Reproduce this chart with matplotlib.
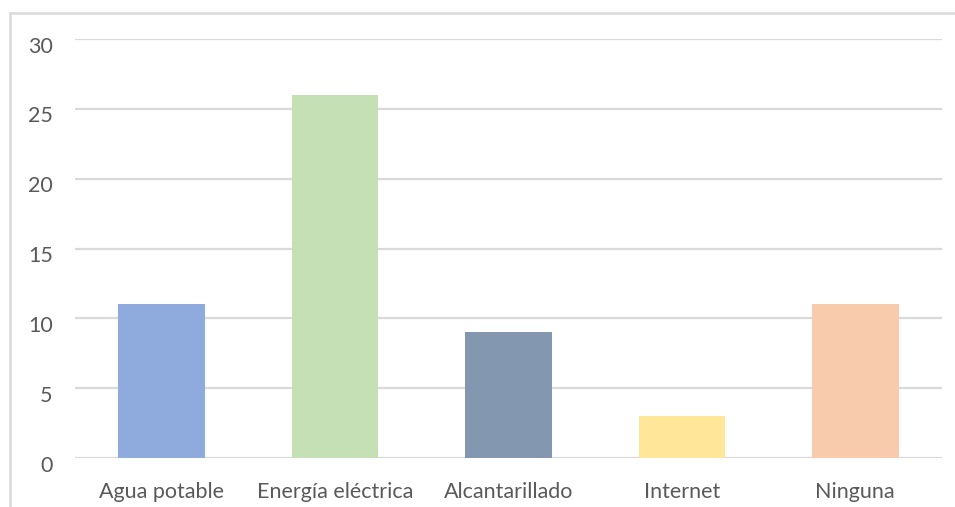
import matplotlib.pyplot as plt
from matplotlib.lines import Line2D
from matplotlib.transforms import ScaledTranslation

categories = ["Agua potable", "Energía eléctrica", "Alcantarillado", "Internet", "Ninguna"]
values = [11, 26, 9, 3, 11]
colors = ["#8FAADC", "#C5E0B4", "#8497B0", "#FFE699", "#F8CBAD"]
yticks = [0, 5, 10, 15, 20, 25, 30]

plt.rcParams['font.family'] = ['Lato', 'DejaVu Sans']

fig = plt.figure(figsize=(9.55, 5.07), dpi=100)
ax = fig.add_axes([0.0785, 0.0966, 0.9079, 0.8264])

x = range(len(categories))
ax.bar(x, values, width=0.5, color=colors, zorder=3)

ax.set_xlim(-0.5, len(categories) - 0.5)
ax.set_ylim(0, 30)
ax.set_yticks(yticks)
ax.set_xticks(list(x))
ax.set_xticklabels(categories)
ax.grid(axis='y', color='#D9D9D9', linewidth=1.6, zorder=0)
for s in ax.spines.values():
    s.set_visible(False)
ax.tick_params(length=0, colors='#595959', labelsize=15.5)
ax.tick_params(axis='y', pad=16)
ax.tick_params(axis='x', pad=17)

# nudge y labels slightly below their gridlines
shift = ScaledTranslation(0, -4 / 72, fig.dpi_scale_trans)
for lbl in ax.get_yticklabels():
    lbl.set_transform(lbl.get_transform() + shift)

# chart frame (top and left edges)
frame = dict(color='#D9D9D9', linewidth=1.8, transform=fig.transFigure)
fig.lines.append(Line2D([0.0105, 1.0], [0.974, 0.974], **frame))
fig.lines.append(Line2D([0.0105, 0.0105], [0.0, 0.974], **frame))

fig.savefig("out.png", dpi=100)
